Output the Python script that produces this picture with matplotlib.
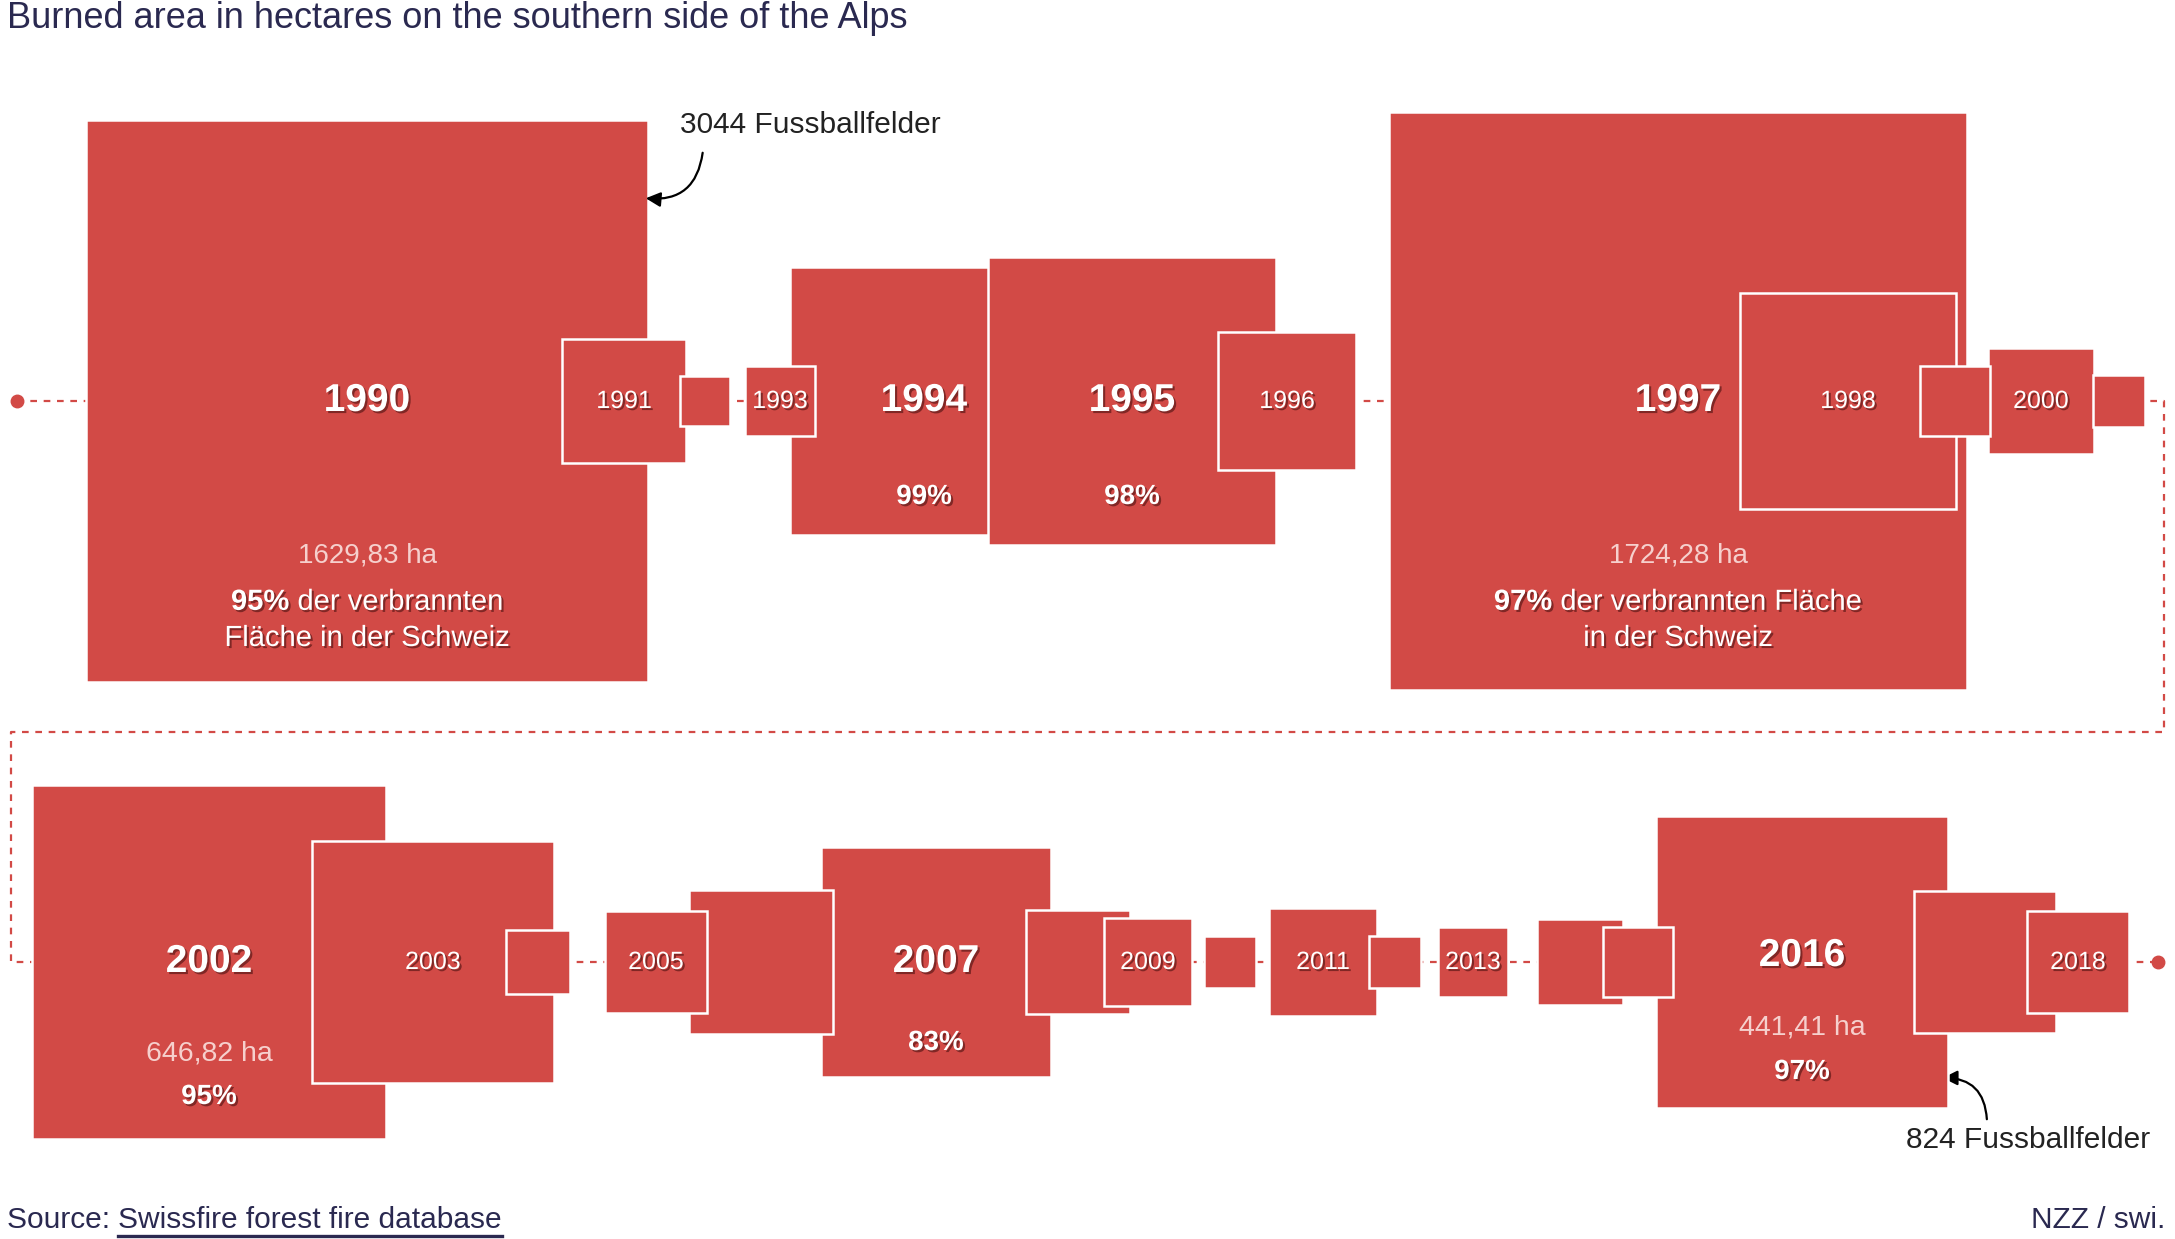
import matplotlib.pyplot as plt
import matplotlib.patheffects as pe
from matplotlib.patches import Rectangle
import numpy as np

plt.rcParams['font.family'] = 'Liberation Sans'
plt.rcParams['mathtext.fontset'] = 'custom'
plt.rcParams['mathtext.rm'] = 'Liberation Sans'
plt.rcParams['mathtext.bf'] = 'Liberation Sans:bold'

# data: burned area per year (ha)
years = list(range(1990, 2019))
area_ha = [1629.83, 80.5, 12.9, 24.8, 370.0, 430.0, 99.4, 1724.28, 238.8, 25.9, 58.9, 14.4,
           646.82, 304.4, 21.0, 53.0, 107.5, 274.0, 55.9, 40.7, 13.6, 60.5, 14.4, 24.8,
           38.2, 24.8, 441.41, 103.4, 53.0]
share_ch = {1990: 95, 1994: 99, 1995: 98, 1997: 97, 2002: 95, 2007: 83, 2016: 97}
football_fields = {1990: 3044, 2016: 824}
labeled_small = [1991, 1993, 1996, 1998, 2000, 2003, 2005, 2009, 2011, 2013, 2018]
labeled_big = [1990, 1994, 1995, 1997, 2002, 2007, 2016]

# layout in figure pixels
row_y = [401, 962]
row = [0] * 12 + [1] * 17
x_center = [367, 624, 705, 780, 924, 1132, 1287, 1678, 1848, 1955, 2041, 2119,
            209, 433, 538, 656, 761, 936, 1078, 1148, 1230, 1323, 1395, 1473,
            1580, 1638, 1802, 1985, 2078]
px_per_sqrt_ha = 13.92
raised = {1993: 1994, 1999: 2000, 2006: 2007, 2005: 2006, 2015: 2016}

red = '#D24A46'
navy = '#2a2950'

fig = plt.figure(figsize=(21.75, 12.39), dpi=100)
ax = fig.add_axes([0, 0, 1, 1])
ax.set_xlim(0, 2175)
ax.set_ylim(1239, 0)
ax.axis('off')

# connecting dotted path
path_x = [17, 2164, 2164, 11, 11, 2158]
path_y = [401, 401, 732, 732, 962, 962]
ax.plot(path_x, path_y, color=red, lw=1.6, dashes=(3, 3), zorder=0)
ax.plot([path_x[0], path_x[-1]], [path_y[0], path_y[-1]], 'o', color=red, ms=9, zorder=0)

z = {yr: i + 1 for i, yr in enumerate(years)}
for yr, below in raised.items():
    z[yr] = z[below] + 0.5

for i, yr in enumerate(years):
    side = px_per_sqrt_ha * np.sqrt(area_ha[i])
    cx, cy = x_center[i], row_y[row[i]]
    ax.add_patch(Rectangle((cx - side / 2, cy - side / 2), side, side,
                           facecolor=red, edgecolor='white', lw=1.8, zorder=z[yr]))

shadow = [pe.SimplePatchShadow(offset=(1.5, -1.5), shadow_rgbFace='#4a1010', alpha=0.6), pe.Normal()]

for i, yr in enumerate(years):
    cx, cy = x_center[i], row_y[row[i]]
    if yr in labeled_big:
        dy = -6 if yr == 2016 else 0
        ax.text(cx, cy + dy, str(yr), color='white', fontsize=28, fontweight='bold',
                ha='center', va='center', zorder=100, path_effects=shadow)
    elif yr in labeled_small:
        ax.text(cx, cy, str(yr), color='white', fontsize=18,
                ha='center', va='center', zorder=100, path_effects=shadow)

def fmt_ha(v):
    return f'{v:.2f}'.replace('.', ',') + ' ha'

light = '#f6d0cd'
# 1990 and 1997 detail text
for yr, lines in [(1990, ('der verbrannten', 'Fläche in der Schweiz')),
                  (1997, ('der verbrannten Fläche', 'in der Schweiz'))]:
    i = years.index(yr)
    cx, cy = x_center[i], row_y[row[i]]
    ax.text(cx, cy + 155, fmt_ha(area_ha[i]), color=light, fontsize=20,
            ha='center', va='center', zorder=100)
    ax.text(cx, cy + 201, r'$\mathbf{' + str(share_ch[yr]) + r'\%}$ ' + lines[0], color='white',
            fontsize=21, ha='center', va='center', zorder=100, path_effects=shadow)
    ax.text(cx, cy + 237, lines[1], color='white', fontsize=21,
            ha='center', va='center', zorder=100, path_effects=shadow)

for yr, dy in [(1994, 96), (1995, 96), (2007, 81)]:
    i = years.index(yr)
    ax.text(x_center[i], row_y[row[i]] + dy, f'{share_ch[yr]}%', color='white', fontsize=20,
            fontweight='bold', ha='center', va='center', zorder=100, path_effects=shadow)

for yr, dy in [(2002, 91), (2016, 66)]:
    i = years.index(yr)
    cx, cy = x_center[i], row_y[row[i]]
    ax.text(cx, cy + dy, fmt_ha(area_ha[i]), color=light, fontsize=20.5,
            ha='center', va='center', zorder=100)
    ax.text(cx, cy + dy + 44, f'{share_ch[yr]}%', color='white', fontsize=20, fontweight='bold',
            ha='center', va='center', zorder=100, path_effects=shadow)

# football field annotations
ax.text(680, 125, f'{football_fields[1990]} Fussballfelder', fontsize=21.5, color='#222222',
        ha='left', va='center')
ax.annotate('', xy=(643, 198), xytext=(703, 150),
            arrowprops=dict(arrowstyle='-|>', connectionstyle='arc3,rad=-0.5',
                            color='black', lw=1.6, mutation_scale=22))
ax.text(2150, 1140, f'{football_fields[2016]} Fussballfelder', fontsize=21.5, color='#222222',
        ha='right', va='center')
ax.annotate('', xy=(1940, 1078), xytext=(1987, 1122),
            arrowprops=dict(arrowstyle='-|>', connectionstyle='arc3,rad=0.5',
                            color='black', lw=1.6, mutation_scale=22))

# title and footer
ax.text(7, 18, 'Burned area in hectares on the southern side of the Alps', fontsize=26,
        color=navy, ha='left', va='center')
src = ax.text(7, 1220, 'Source: ', fontsize=21.5, color=navy, ha='left', va='center')
fig.canvas.draw()
bb = src.get_window_extent()
x_link = ax.transData.inverted().transform((bb.x1, 0))[0]
link = ax.text(x_link, 1220, 'Swissfire forest fire database', fontsize=21.5, color=navy,
               ha='left', va='center')
fig.canvas.draw()
lb = link.get_window_extent()
inv = ax.transData.inverted()
(lx0, ly0), (lx1, _) = inv.transform((lb.x0, lb.y0)), inv.transform((lb.x1, lb.y0))
ax.plot([lx0, lx1], [ly0 + 2, ly0 + 2], color=navy, lw=2.4)
ax.text(2165, 1220, 'NZZ / swi.', fontsize=21.5, color=navy, ha='right', va='center')

fig.savefig('out.png', dpi=100)
